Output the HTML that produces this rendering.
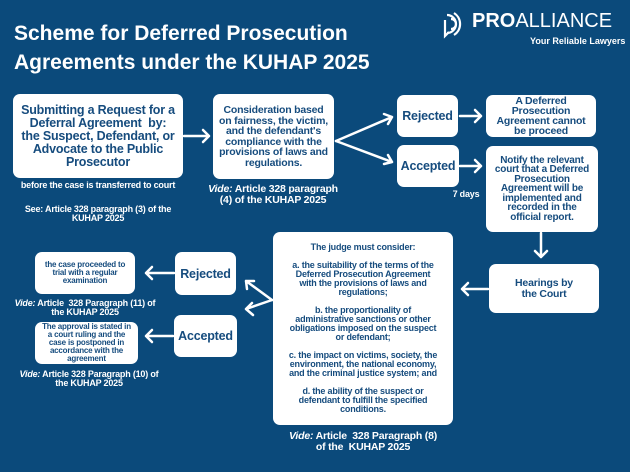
<!DOCTYPE html>
<html><head><meta charset="utf-8"><style>
*{margin:0;padding:0;box-sizing:border-box}
body{width:630px;height:472px;background:#0b4a7b;font-family:"Liberation Sans",sans-serif;font-weight:bold;position:relative;overflow:hidden;color:#fff}
.b{position:absolute;background:#fff;border-radius:7px;color:#164c7e;display:flex;align-items:center;justify-content:center;text-align:center;letter-spacing:-0.2px}
.t{position:absolute;text-align:center;color:#fff;letter-spacing:-0.2px}
i{font-style:italic}
</style></head><body>
<div style="position:absolute;left:14px;top:19px;font-size:21px;line-height:29px;letter-spacing:0px">Scheme for Deferred Prosecution<br>Agreements under the KUHAP 2025</div>
<svg style="position:absolute;left:443px;top:11px" width="30" height="28" viewBox="0 0 30 28"><g fill="none" stroke="#fff" stroke-width="2.2"><path d="M4 4 a9 9 0 0 1 0 18"/><path d="M8 8 a5 5 0 0 1 0 10"/><path d="M2 9 v16 l4 -4"/><path d="M11 2 a13 13 0 0 1 0 22"/></g></svg>
<div style="position:absolute;left:472px;top:10px;font-size:20px;font-weight:normal;letter-spacing:0px"><b>PRO</b>ALLIANCE</div>
<div style="position:absolute;left:530px;top:36px;font-size:9px">Your Reliable Lawyers</div>

<div class="b" style="left:13px;top:94px;width:170px;height:84px;font-size:12.5px;line-height:13px;padding:0 8px">Submitting a Request for a Deferral Agreement &nbsp;by: the Suspect, Defendant, or Advocate to the Public Prosecutor</div>
<div class="t" style="left:18px;top:181px;width:160px;font-size:9px;line-height:9px">before the case is transferred to court</div>
<div class="t" style="left:10px;top:205px;width:176px;font-size:9px;line-height:9px">See: Article 328 paragraph (3) of the KUHAP 2025</div>

<div class="b" style="left:213px;top:94px;width:121px;height:85px;font-size:10.5px;line-height:10.5px;padding:0 3px">Consideration based on fairness, the victim, and the defendant's compliance with the provisions of laws and regulations.</div>
<div class="t" style="left:208px;top:184px;width:130px;font-size:10.5px;line-height:11px"><i>Vide:</i> Article 328 paragraph (4) of the KUHAP 2025</div>

<div class="b" style="left:397px;top:95px;width:61px;height:42px;font-size:12.5px">Rejected</div>
<div class="b" style="left:397px;top:145px;width:62px;height:42px;font-size:12.5px">Accepted</div>
<div class="t" style="left:446px;top:189px;width:40px;font-size:9px">7 days</div>
<div class="b" style="left:486px;top:95px;width:110px;height:42px;font-size:10.5px;line-height:10px;padding:0 10px">A Deferred Prosecution Agreement cannot be proceed</div>
<div class="b" style="left:486px;top:146px;width:112px;height:86px;font-size:10px;line-height:9.5px;padding:0 8px">Notify the relevant court that a Deferred Prosecution Agreement will be implemented and recorded in the official report.</div>
<div class="b" style="left:489px;top:264px;width:110px;height:49px;font-size:10.5px;line-height:11px;padding:0 18px">Hearings by the Court</div>

<div class="b" style="left:273px;top:232px;width:180px;height:193px;font-size:9px;line-height:9px;flex-direction:column;padding:0 13px">
<div>The judge must consider:</div><br>
<div>a. the suitability of the terms of the Deferred Prosecution Agreement with the provisions of laws and regulations;</div><br>
<div>b. the proportionality of administrative sanctions or other obligations imposed on the suspect or defendant;</div><br>
<div>c. the impact on victims, society, the environment, the national economy, and the criminal justice system; and</div><br>
<div>d. the ability of the suspect or defendant to fulfill the specified conditions.</div></div>
<div class="t" style="left:283px;top:431px;width:160px;font-size:10.5px;line-height:11px"><i>Vide:</i> Article &nbsp;328 Paragraph (8) of the &nbsp;KUHAP 2025</div>

<div class="b" style="left:175px;top:252px;width:61px;height:43px;font-size:12.5px">Rejected</div>
<div class="b" style="left:174px;top:315px;width:63px;height:42px;font-size:12.5px">Accepted</div>
<div class="b" style="left:35px;top:252px;width:100px;height:42px;font-size:8px;line-height:8px;padding:0 9px">the case proceeded to trial with a regular examination</div>
<div class="t" style="left:12px;top:299px;width:146px;font-size:9px;line-height:9px"><i>Vide:</i> Article &nbsp;328 Paragraph (11) of the KUHAP 2025</div>
<div class="b" style="left:35px;top:322px;width:103px;height:42px;font-size:8px;line-height:8px;padding:0 5px">The approval is stated in a court ruling and the case is postponed in accordance with the agreement</div>
<div class="t" style="left:14px;top:370px;width:150px;font-size:9px;line-height:9px"><i>Vide:</i> Article 328 Paragraph (10) of the KUHAP 2025</div>

<svg style="position:absolute;left:0;top:0" width="630" height="472"><g stroke="#fff" stroke-width="2.5" fill="none" stroke-linecap="round" stroke-linejoin="round">
<path d="M184 136 H209 M203 130 L209 136 L203 142"/>
<path d="M336 141 L392 117 M384 114 L392 117 L388 124"/>
<path d="M336 141 L392 162 M388 155 L392 162 L384 164"/>
<path d="M460 116 H481 M475 110 L481 116 L475 122"/>
<path d="M460 166 H481 M475 160 L481 166 L475 172"/>
<path d="M541 233 V257 M535 251 L541 257 L547 251"/>
<path d="M488 289 H462 M468 283 L462 289 L468 295"/>
<path d="M272 300 L246 281 M247 289 L246 281 L254 281"/>
<path d="M272 300 L246 309 M252 303 L246 309 L253 315"/>
<path d="M174 273 H146 M152 267 L146 273 L152 279"/>
<path d="M173 336 H146 M152 330 L146 336 L152 342"/>
</g></svg>
</body></html>
